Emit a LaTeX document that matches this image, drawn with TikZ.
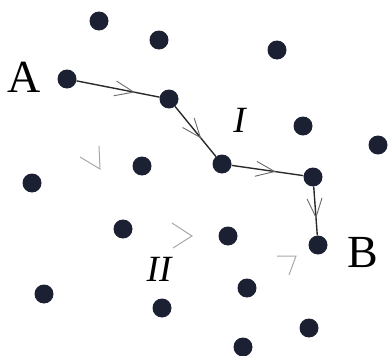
\documentclass[tikz,border=0pt]{standalone}
\usepackage{fontspec}
\setmainfont{Liberation Serif}
\usetikzlibrary{decorations.markings}
\definecolor{dotc}{HTML}{1C2033}
\definecolor{pathc}{HTML}{2A2A2A}
\definecolor{chevc}{HTML}{6A6A6A}
\definecolor{faintc}{HTML}{A8A8A8}
\tikzset{
  pt/.style={circle,fill=dotc,minimum size=19pt,inner sep=0pt},
  lbl/.style={inner sep=0pt,font=\fontsize{46}{46}\selectfont},
  reg/.style={inner sep=0pt,font=\fontsize{37}{37}\selectfont\itshape},
  chev/.style={draw=chevc,line width=0.9pt},
  seg/.style={draw=pathc,line width=1.4pt,postaction={decorate},
    decoration={markings,mark=at position #1 with {\draw[chev] (-19pt,7.5pt) -- (0,0) -- (-19pt,-7.5pt);}}},
  faint/.style={draw=faintc,line width=1pt}
}
\begin{document}
\begin{tikzpicture}[x=1pt,y=-1pt]
\useasboundingbox (0,0) rectangle (389,356);
% dots
\node[pt] (a) at (67,79) {};
\node[pt] (p1) at (169,99) {};
\node[pt] (p2) at (222,164) {};
\node[pt] (p3) at (313,177) {};
\node[pt] (b) at (318,245) {};
\node[pt] (d1) at (99,21) {};
\node[pt] (d2) at (159,40) {};
\node[pt] (d3) at (277,50) {};
\node[pt] (d4) at (303,126) {};
\node[pt] (d5) at (378,145) {};
\node[pt] (d6) at (142,166) {};
\node[pt] (d7) at (32,183) {};
\node[pt] (d8) at (123,229) {};
\node[pt] (d9) at (228,236) {};
\node[pt] (d10) at (44,294) {};
\node[pt] (d11) at (247,288) {};
\node[pt] (d12) at (162,308) {};
\node[pt] (d13) at (309,328) {};
\node[pt] (d14) at (243,347) {};
% path I
\draw[seg=0.69] (a) -- (p1);
\draw[seg=0.62] (p1) -- (p2);
\draw[seg=0.6] (p2) -- (p3);
\draw[seg=0.63] (p3) -- (b);
% faint chevrons of path II
\coordinate (f1a) at (80,157); \coordinate (f1b) at (100,169); \coordinate (f1c) at (99,146);
\draw[faint] (f1a) -- (f1b) -- (f1c);
\coordinate (f2a) at (172,223); \coordinate (f2b) at (192,236); \coordinate (f2c) at (173,248);
\draw[faint] (f2a) -- (f2b) -- (f2c);
\coordinate (f3a) at (277,256); \coordinate (f3b) at (296,256); \coordinate (f3c) at (289,275);
\draw[faint] (f3a) -- (f3b) -- (f3c);
% labels
\node[lbl] (la) at (24.5,77.5) {A};
\node[lbl] (lb) at (363,253) {B};
\node[reg] (l1) at (239.5,120) {I};
\node[reg] (l2) at (159,269.5) {II};
\end{tikzpicture}
\end{document}
